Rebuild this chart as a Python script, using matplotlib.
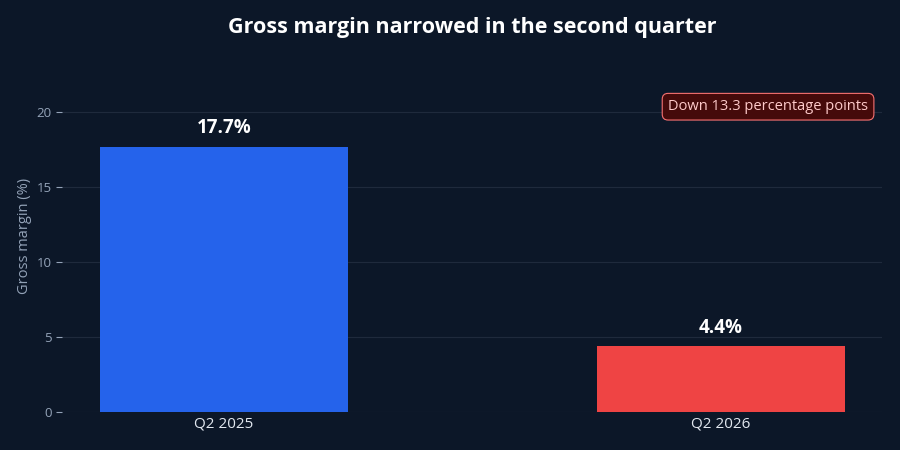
import matplotlib.pyplot as plt

# Data
quarters = ['Q2 2025', 'Q2 2026']
margins = [17.7, 4.4]
bar_colors = ['#2563eb', '#ef4444']
value_labels = ['17.7%', '4.4%']
y_ticks = [0, 5, 10, 15, 20]

bg = '#0c1728'
plt.rcParams['font.family'] = ['Open Sans', 'DejaVu Sans']

fig = plt.figure(figsize=(9, 4.5), dpi=100, facecolor=bg)
ax = fig.add_axes([0.069, 0.084, 0.911, 0.783], facecolor=bg)

x = list(range(len(quarters)))
ax.bar(x, margins, width=0.5, color=bar_colors, zorder=3)

# Value labels above bars
for xi, v, lab in zip(x, margins, value_labels):
    ax.annotate(lab, (xi, v), xytext=(0, 6), textcoords='offset points',
                ha='center', va='bottom', color='white', fontsize=13.5,
                fontweight='bold')

ax.set_xlim(-0.326, 1.324)
ax.set_ylim(0, 23.5)
ax.set_xticks(x)
ax.set_xticklabels(quarters, fontsize=11, color='#e2e8f0')
ax.set_yticks(y_ticks)
ax.tick_params(axis='y', colors='#94a3b8', labelsize=9.5, length=4, width=0.8)
ax.tick_params(axis='x', length=0, pad=3)
ax.yaxis.grid(True, color='#1f2a3c', linewidth=0.8, zorder=0)
ax.set_axisbelow(True)
for s in ax.spines.values():
    s.set_visible(False)

ax.set_ylabel('Gross margin (%)', color='#94a3b8', fontsize=10.5, labelpad=3)

# Title centred over the plot area
fig.text(0.5245, 0.94, 'Gross margin narrowed in the second quarter',
         ha='center', va='center', color='white', fontsize=15.5,
         fontweight='bold')

# Change annotation
ax.text(0.983, 0.867, 'Down 13.3 percentage points', transform=ax.transAxes,
        ha='right', va='center', color='#fecaca', fontsize=10.5,
        bbox=dict(boxstyle='round,pad=0.4,rounding_size=0.4',
                  facecolor='#450a0a', edgecolor='#f87171', linewidth=0.8))

fig.savefig('out.png', dpi=100, facecolor=bg)
